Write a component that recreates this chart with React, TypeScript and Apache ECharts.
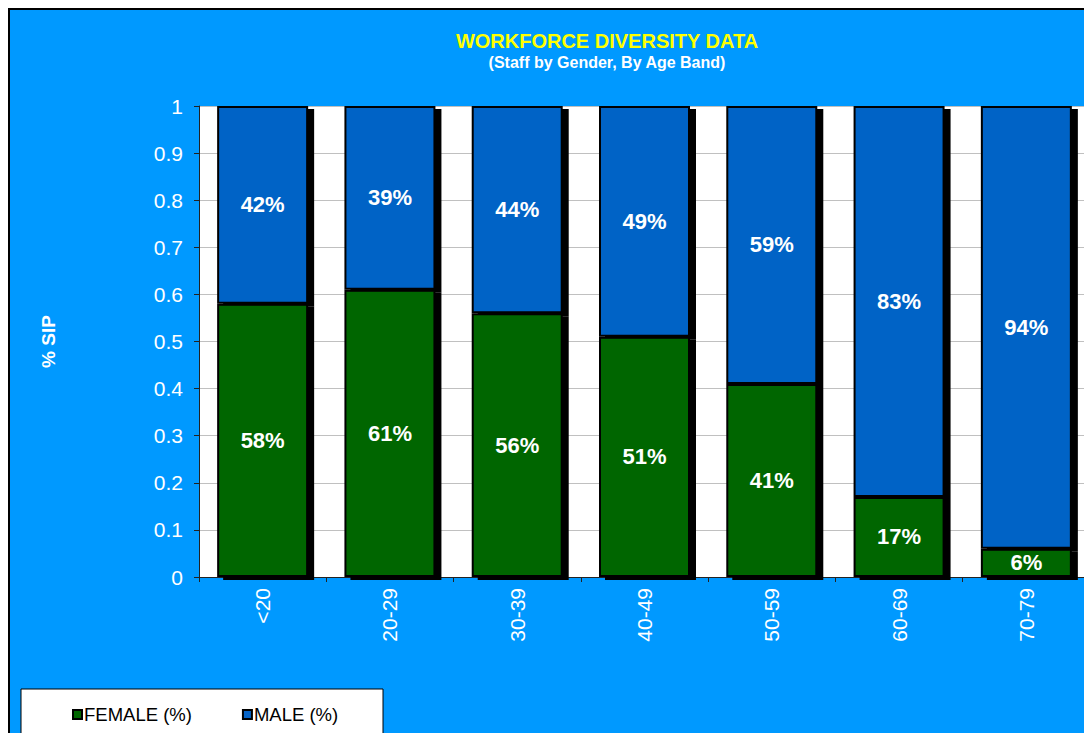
import React, { useEffect, useRef } from "react";
import * as echarts from "echarts";

const categories = ["<20", "20-29", "30-39", "40-49", "50-59", "60-69", "70-79"];
const femaleValues = [0.58, 0.61, 0.56, 0.51, 0.41, 0.17, 0.06];
const maleValues = [0.42, 0.39, 0.44, 0.49, 0.59, 0.83, 0.94];
const seriesNames = ["FEMALE (%)", "MALE (%)"];

const FONT = "'Liberation Sans', Arial, sans-serif";

export default function App() {
  const ref = useRef<HTMLDivElement>(null);
  useEffect(() => {
    if (!ref.current) return;
    const chart = echarts.init(ref.current, undefined, { renderer: "svg" });
    const labelCfg = {
      show: true,
      position: "inside" as const,
      color: "#fff",
      fontFamily: FONT,
      fontWeight: "bold" as const,
      fontSize: 22,
      formatter: (p: any) => Math.round(p.value * 100) + "%",
    };
    const itemBase = {
      borderColor: "#000",
      borderWidth: 2,
      shadowColor: "#000",
      shadowOffsetX: 6,
      shadowOffsetY: 3,
      shadowBlur: 0,
    };
    chart.setOption({
      animation: false,
      backgroundColor: "#0099FF",
      textStyle: { fontFamily: FONT },
      title: {
        text: "WORKFORCE DIVERSITY DATA",
        subtext: "(Staff by Gender, By Age Band)",
        left: 592,
        top: 16,
        textAlign: "center",
        itemGap: 3,
        textStyle: { color: "#FFFF00", fontFamily: FONT, fontWeight: "bold", fontSize: 20 },
        subtextStyle: { color: "#fff", fontFamily: FONT, fontWeight: "bold", fontSize: 16 },
      },
      graphic: [
        {
          type: "rect",
          shape: { x: 11, y: 679, width: 362, height: 60 },
          style: { fill: "#fff", stroke: "#000", lineWidth: 1 },
          z: 0,
        },
      ],
      legend: {
        left: 57,
        top: 690,
        itemWidth: 9,
        itemHeight: 9,
        itemGap: 50,
        icon: "rect",
        data: seriesNames,
        textStyle: { color: "#000", fontFamily: FONT, fontSize: 18.5, padding: [0, 0, 0, -3] },
        z: 5,
      },
      grid: {
        left: 189,
        top: 96,
        right: 2,
        bottom: 156,
        show: true,
        backgroundColor: "#fff",
        borderWidth: 0,
      },
      xAxis: {
        type: "category",
        data: categories,
        axisLine: { lineStyle: { color: "#222", width: 1 } },
        axisTick: { show: true, length: 5, lineStyle: { color: "#222" } },
        axisLabel: {
          rotate: 90,
          margin: 11,
          color: "#fff",
          fontFamily: FONT,
          fontSize: 21,
        },
      },
      yAxis: {
        type: "value",
        min: 0,
        max: 1,
        interval: 0.1,
        name: "% SIP",
        nameLocation: "middle",
        nameGap: 141,
        nameRotate: 90,
        nameTextStyle: { color: "#fff", fontFamily: FONT, fontWeight: "bold", fontSize: 19 },
        axisLine: { show: true, lineStyle: { color: "#222", width: 1 } },
        axisTick: { show: true, length: 5, lineStyle: { color: "#222" } },
        axisLabel: { color: "#fff", fontFamily: FONT, fontSize: 21, margin: 16 },
        splitLine: { show: true, lineStyle: { color: "#C0C0C0", width: 1 } },
      },
      series: [
        {
          name: seriesNames[0],
          type: "bar",
          stack: "total",
          data: femaleValues,
          barWidth: 91,
          z: 3,
          itemStyle: { ...itemBase, color: "#006600" },
          label: labelCfg,
        },
        {
          name: seriesNames[1],
          type: "bar",
          stack: "total",
          data: maleValues,
          barWidth: 91,
          z: 2,
          itemStyle: { ...itemBase, color: "#0563C6" },
          label: labelCfg,
        },
      ],
    });
    return () => chart.dispose();
  }, []);
  return (
    <div
      style={{
        width: 1084,
        height: 725,
        boxSizing: "border-box",
        borderTop: "2px solid #000",
        borderLeft: "2px solid #000",
        background: "#0099FF",
        overflow: "hidden",
      }}
    >
      <div ref={ref} style={{ width: 1082, height: 723 }} />
    </div>
  );
}
